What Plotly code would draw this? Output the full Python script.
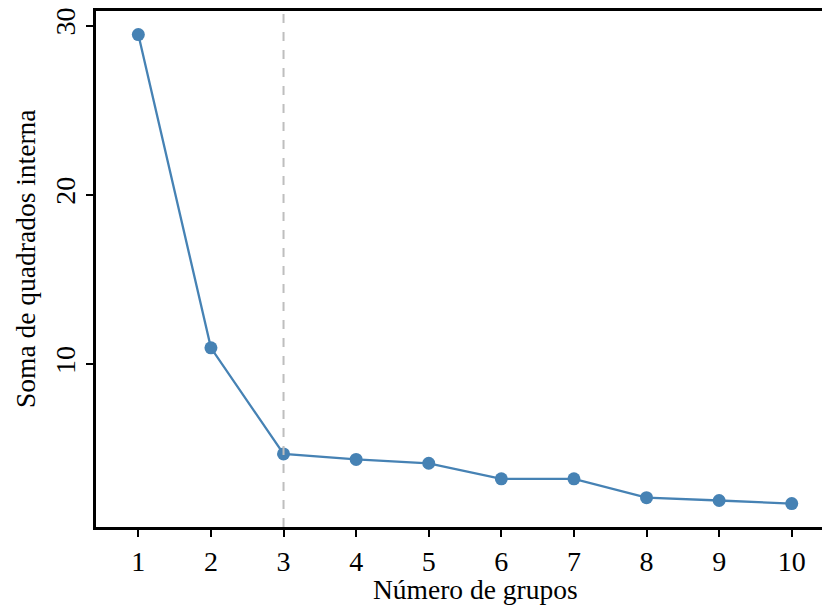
import plotly.graph_objects as go

grupos = [1, 2, 3, 4, 5, 6, 7, 8, 9, 10]
soma_quadrados = [29.48, 10.97, 4.70, 4.38, 4.15, 3.23, 3.23, 2.12, 1.95, 1.77]
x_ticks = [1, 2, 3, 4, 5, 6, 7, 8, 9, 10]
y_ticks = [10, 20, 30]
k_otimo = 3

fig = go.Figure()
fig.add_trace(go.Scatter(
    x=grupos, y=soma_quadrados, mode="lines+markers",
    line=dict(color="#4682B4", width=2.3),
    marker=dict(color="#4682B4", size=13),
    showlegend=False,
))
fig.add_shape(type="line", x0=k_otimo, x1=k_otimo, xref="x", y0=0, y1=1, yref="paper",
              line=dict(color="#BEBEBE", width=2, dash="dash"), layer="above")

font = "Liberation Serif"
fig.add_annotation(text="Número de grupos", xref="paper", yref="paper",
                   x=0.523, y=-0.122, xanchor="center", yanchor="middle",
                   showarrow=False, font=dict(family=font, size=27.5, color="black"))
fig.add_annotation(text="Soma de quadrados interna", xref="paper", yref="paper",
                   x=-0.098, y=0.521, xanchor="center", yanchor="middle", textangle=-90,
                   showarrow=False, font=dict(family=font, size=27.5, color="black"))

fig.update_layout(
    width=822, height=610,
    margin=dict(l=96, r=0, t=11, b=83),
    plot_bgcolor="white", paper_bgcolor="white",
    font=dict(family=font, color="black", size=27),
    xaxis=dict(
        range=[0.417, 10.417], tickvals=x_ticks, showgrid=False, zeroline=False,
        showline=True, linecolor="black", linewidth=3, mirror=True,
        ticks="outside", ticklen=7, tickwidth=2, tickcolor="black",
        tickfont=dict(family=font, size=28),
    ),
    yaxis=dict(
        range=[0.385, 30.87], tickvals=y_ticks, showgrid=False, zeroline=False,
        showline=True, linecolor="black", linewidth=3,
        ticks="outside", ticklen=7, tickwidth=2, tickcolor="black",
        tickangle=-90, tickfont=dict(family=font, size=28),
    ),
)
fig.write_html("out.html")
